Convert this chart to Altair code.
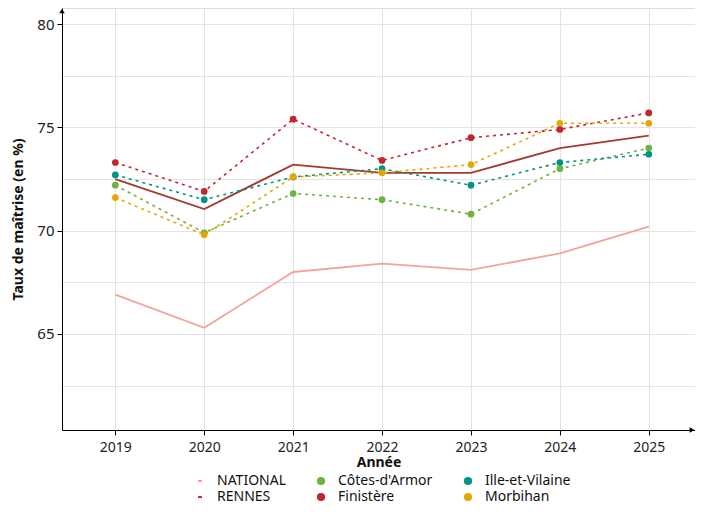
import altair as alt
import pandas as pd

years = [2019, 2020, 2021, 2022, 2023, 2024, 2025]
national = [66.9, 65.3, 68.0, 68.4, 68.1, 68.9, 70.2]
rennes = [72.5, 71.05, 73.2, 72.8, 72.8, 74.0, 74.6]
cotes = [72.2, 69.9, 71.8, 71.5, 70.8, 73.0, 74.0]
finistere = [73.3, 71.9, 75.4, 73.4, 74.5, 74.9, 75.7]
ille = [72.7, 71.5, 72.6, 73.0, 72.2, 73.3, 73.7]
morbihan = [71.6, 69.8, 72.6, 72.8, 73.2, 75.2, 75.2]

series_names = ["NATIONAL", "RENNES", "Côtes-d'Armor", "Finistère", "Ille-et-Vilaine", "Morbihan"]
series_vals = [national, rennes, cotes, finistere, ille, morbihan]

legend_order = ["NATIONAL", "Côtes-d'Armor", "Ille-et-Vilaine", "RENNES", "Finistère", "Morbihan"]
legend_colors = ["#f4a39c", "#6db33f", "#009485", "#a23a2e", "#c1272d", "#e3a800"]
dash_shape = "M-0.35,-0.1L0.35,-0.1L0.35,0.1L-0.35,0.1Z"
legend_shapes = [dash_shape, "circle", "circle", dash_shape, "circle", "circle"]

rows = []
for name, vals in zip(series_names, series_vals):
    for y, v in zip(years, vals):
        rows.append({"annee": y, "taux": v, "serie": name})
df = pd.DataFrame(rows)

FONT = "Noto Sans"
W, H = 633, 422

xenc = alt.X("annee:Q", title="Année",
             scale=alt.Scale(domain=[2018.4, 2025.52], nice=False, zero=False),
             axis=alt.Axis(values=years, format="d", grid=True, gridColor="#e3e3e3",
                           domainColor="black", tickColor="black", tickSize=5,
                           labelFontSize=14, labelColor="#222", labelPadding=5,
                           titleFontSize=14, titleFontWeight="bold", titleColor="#111",
                           titlePadding=1, labelFont=FONT, titleFont=FONT))
yenc = alt.Y("taux:Q", title="Taux de maîtrise (en %)",
             scale=alt.Scale(domain=[60.35, 80.78], nice=False, zero=False),
             axis=alt.Axis(values=[62.5, 65, 67.5, 70, 72.5, 75, 77.5, 80],
                           labelExpr="datum.value % 5 === 0 ? datum.label : ''",
                           tickOpacity={"condition": {"test": "datum.value % 5 === 0", "value": 1}, "value": 0},
                           grid=True, gridColor="#e3e3e3",
                           domainColor="black", tickColor="black", tickSize=5,
                           labelFontSize=15, labelColor="#222", labelPadding=3,
                           titleFontSize=14, titleFontWeight="bold", titleColor="#111",
                           titlePadding=11, labelFont=FONT, titleFont=FONT))

legend_kw = dict(title=None, orient="none", legendX=131, legendY=466,
                 columns=3, direction="horizontal",
                 labelFontSize=14, labelFont=FONT, labelColor="#111",
                 symbolSize=45, columnPadding=28, rowPadding=2,
                 labelOffset=10)
color = alt.Color("serie:N", scale=alt.Scale(domain=legend_order, range=legend_colors),
                  legend=alt.Legend(**legend_kw))
shape = alt.Shape("serie:N", scale=alt.Scale(domain=legend_order, range=legend_shapes),
                  legend=alt.Legend(**legend_kw))

base = alt.Chart(df)
depts = ["Côtes-d'Armor", "Finistère", "Ille-et-Vilaine", "Morbihan"]

solid = base.transform_filter(
    alt.FieldOneOfPredicate(field="serie", oneOf=["NATIONAL", "RENNES"])
).mark_line(strokeWidth=1.8).encode(x=xenc, y=yenc, color=color, detail="serie:N")

dotted = base.transform_filter(
    alt.FieldOneOfPredicate(field="serie", oneOf=depts)
).mark_line(strokeWidth=1.6, strokeDash=[3, 4]).encode(x=xenc, y=yenc, color=color, detail="serie:N")

points = base.transform_filter(
    alt.FieldOneOfPredicate(field="serie", oneOf=depts)
).mark_point(filled=True, opacity=1, size=45).encode(x=xenc, y=yenc, color=color, shape=shape)

arrow_df = pd.DataFrame({"a": [0]})
arrow_up = alt.Chart(arrow_df).mark_point(shape="triangle-up", filled=True, color="black", opacity=1, size=30).encode(
    x=alt.value(0), y=alt.value(3))
arrow_right = alt.Chart(arrow_df).mark_point(shape="triangle-right", filled=True, color="black", opacity=1, size=30).encode(
    x=alt.value(W - 3), y=alt.value(H))

chart = alt.layer(solid, dotted, points, arrow_up, arrow_right).properties(
    width=W, height=H,
    autosize=alt.AutoSizeParams(type="none"),
    padding={"left": 54, "top": 0, "right": 0, "bottom": 74},
).configure_view(stroke=None).configure(background="white")

chart.save("out.html", embed_options={"renderer": "svg", "actions": False})
